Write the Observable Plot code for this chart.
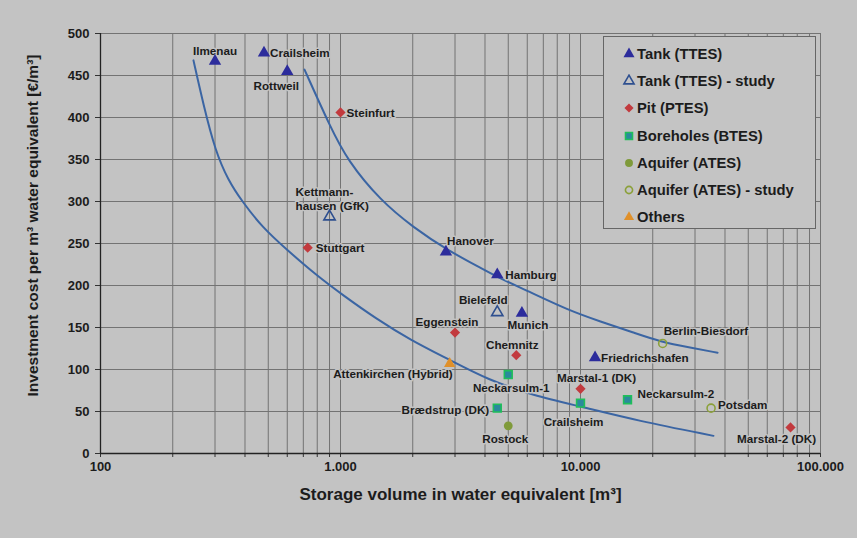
<!DOCTYPE html>
<html>
<head>
<meta charset="utf-8">
<script src="https://cdn.jsdelivr.net/npm/d3@7"></script>
<script src="https://cdn.jsdelivr.net/npm/@observablehq/plot@0.6"></script>
<style>
  html, body { margin: 0; padding: 0; background: #c3c3c3; }
  #wrap { position: relative; width: 857px; height: 538px; }
  #legend {
    position: absolute; left: 603px; top: 36px; width: 213px; height: 193px;
    border: 1px solid #666; background: #c4c4c4; box-sizing: border-box;
    font-family: "Liberation Sans", Arial, sans-serif; font-weight: bold; font-size: 14.8px; color: #1c1c1c;
  }
  .item { position: absolute; left: 18px; height: 18px; display: flex; align-items: center; white-space: nowrap; }
  .item svg { width: 14px; height: 14px; margin-right: 1px; }
</style>
</head>
<body>
<div id="wrap"><div id="legend"></div></div>
<script>
// ---- Data ----
const categories = ["Tank (TTES)", "Tank (TTES) - study", "Pit (PTES)", "Boreholes (BTES)", "Aquifer (ATES)", "Aquifer (ATES) - study", "Others"];

const names = ["Ilmenau", "Crailsheim", "Rottweil", "Steinfurt", "Kettmann-\nhausen (GfK)", "Stuttgart", "Hanover", "Hamburg", "Bielefeld", "Munich", "Eggenstein", "Chemnitz", "Attenkirchen (Hybrid)", "Neckarsulm-1", "Brædstrup (DK)", "Rostock", "Marstal-1 (DK)", "Crailsheim", "Neckarsulm-2", "Potsdam", "Friedrichshafen", "Berlin-Biesdorf", "Marstal-2 (DK)"];
const volumes = [300, 480, 600, 1000, 900, 730, 2750, 4500, 4500, 5700, 3000, 5400, 2850, 5000, 4500, 5000, 10000, 10000, 15700, 35000, 11500, 22000, 75000];
const costs = [467, 477, 455, 406, 282, 245, 240, 213, 168, 167, 144, 117, 107, 94, 54, 33, 77, 60, 64, 54, 114, 131, 31];
const types = [0, 0, 0, 2, 1, 2, 0, 0, 1, 0, 2, 2, 6, 3, 3, 4, 2, 3, 3, 5, 0, 5, 2];

// fitted trend curves
const upperCurveX = [708, 909, 1069, 1468, 2014, 2792, 3831, 4642, 6190, 8830, 12115, 16630, 21540, 28730, 37240];
const upperCurveY = [457, 388, 349, 301, 269, 242, 221, 208, 192, 171, 157, 144, 133, 126, 120];
const lowerCurveX = [244, 269, 301, 341, 387, 473, 601, 787, 1029, 1399, 1958, 2873, 4098, 6368, 10000, 17280, 35810];
const lowerCurveY = [468, 414, 360, 325, 301, 269, 242, 213, 188, 161, 135, 111, 88, 69, 56, 39, 21];

const xMajorTicks = [100, 1000, 10000, 100000];
const xTickLabels = ["100", "1.000", "10.000", "100.000"];
const yTicks = [0, 50, 100, 150, 200, 250, 300, 350, 400, 450, 500];

// ---- Layout / style config ----
const styles = [
  {symbol: "triangle", fill: "#2c2c9c", stroke: "none", sw: 0, r: 4.6},
  {symbol: "triangle", fill: "none", stroke: "#2e4f8f", sw: 1.6, r: 4.2},
  {symbol: "diamond2", fill: "#c23a3e", stroke: "none", sw: 0, r: 4.6},
  {symbol: "square", fill: "#2a8a9c", stroke: "#1fbf5a", sw: 1.6, r: 4.4},
  {symbol: "circle", fill: "#7f9a3a", stroke: "none", sw: 0, r: 4.4},
  {symbol: "circle", fill: "none", stroke: "#8ba03a", sw: 1.6, r: 4},
  {symbol: "triangle", fill: "#e0902a", stroke: "none", sw: 0, r: 4.2}
];
// label placement relative to each point: [dx, dy, anchor, lineAnchor]
const placement = [
  [0, -11, "middle"], [6, 0, "start"], [-11, 14, "middle"], [6, 0, "start"],
  [-34, -7, "start", "bottom"], [8, 0, "start"], [1, -11, "start"], [8, 0, "start"],
  [-14, -13, "middle"], [6, 11, "middle"], [-8, -11, "middle"], [-4, -11, "middle"],
  [3, 10, "end"], [3, 13, "middle"], [-8, 2, "end"], [-3, 13, "middle"],
  [16, -11, "middle"], [-7, 19, "middle"], [10, -6, "start"], [7, -3, "start"],
  [6, 0, "start"], [1, -13, "start"], [-14, 11, "middle"]
];

const rows = names.map((n, i) => ({name: n, v: volumes[i], c: costs[i], t: types[i]}));
const upper = upperCurveX.map((x, i) => ({x, y: upperCurveY[i]}));
const lower = lowerCurveX.map((x, i) => ({x, y: lowerCurveY[i]}));

const xMinor = [];
for (let d = 100; d < 100000; d *= 10) for (let k = 1; k <= 10; k++) xMinor.push(d * k);

const BG = "#c3c3c3";
const FONT = "'Liberation Sans', Arial, sans-serif";
const INK = "#1c1c1c";

const marks = [
  Plot.gridX(xMinor, {stroke: "#737373", strokeOpacity: 1, strokeWidth: 1}),
  Plot.gridY(yTicks, {stroke: "#737373", strokeOpacity: 1, strokeWidth: 1}),
  Plot.axisX(xMinor, {tickSize: 4, text: null, label: null, stroke: "#333"}),
  Plot.axisX(xMajorTicks, {tickSize: 0, tickPadding: 8, label: null, fontSize: 13, fontWeight: "bold", fill: INK,
    tickFormat: d => xTickLabels[xMajorTicks.indexOf(d)]}),
  Plot.axisY(yTicks, {tickSize: 5, tickPadding: 6, label: null, fontSize: 13, fontWeight: "bold", fill: INK, stroke: "#333"}),
  Plot.ruleY([0], {stroke: "#222", strokeWidth: 1.3}),
  Plot.ruleX([100], {stroke: "#222", strokeWidth: 1.3}),
  Plot.line(upper, {x: "x", y: "y", stroke: "#3b65a3", strokeWidth: 2, curve: "basis"}),
  Plot.line(lower, {x: "x", y: "y", stroke: "#3b65a3", strokeWidth: 2, curve: "basis"}),
  Plot.text(["Storage volume in water equivalent [m³]"], {frameAnchor: "bottom", dy: 46, fontSize: 17, fontWeight: "bold", fill: INK}),
  Plot.text(["Investment cost per m³ water equivalent [€/m³]"], {frameAnchor: "left", textAnchor: "middle", dy: -18, dx: -67, rotate: -90, fontSize: 15.5, fontWeight: "bold", fill: INK})
];

rows.forEach((r, i) => {
  const p = placement[i];
  marks.push(Plot.text([r], {x: "v", y: "c", text: "name", dx: p[0], dy: p[1], textAnchor: p[2],
    lineAnchor: p[3] || "middle", lineHeight: 1.15, fontSize: 11.7, fontWeight: "bold", fill: INK,
    stroke: BG, strokeWidth: 3, paintOrder: "stroke"}));
});

styles.forEach((s, k) => {
  marks.push(Plot.dot(rows.filter(r => r.t === k), {x: "v", y: "c", symbol: () => s.symbol, r: s.r,
    fill: s.fill, stroke: s.stroke, strokeWidth: s.sw}));
});

const chart = Plot.plot({
  width: 857, height: 538,
  marginLeft: 100, marginRight: 37, marginTop: 33, marginBottom: 85,
  style: {background: BG, fontFamily: FONT, color: INK},
  x: {type: "log", domain: [100, 100000]},
  y: {domain: [0, 500]},
  symbol: {type: "identity"},
  marks
});
document.getElementById("wrap").prepend(chart);

// legend
const legend = document.getElementById("legend");
categories.forEach((c, k) => {
  const s = styles[k];
  const div = document.createElement("div");
  div.className = "item";
  div.style.top = (8 + k * 27.2) + "px";
  const sym = {triangle: d3.symbolTriangle, diamond2: d3.symbolDiamond2, square: d3.symbolSquare, circle: d3.symbolCircle}[s.symbol];
  const path = d3.symbol(sym, Math.PI * s.r * s.r * 0.8)();
  div.innerHTML = `<svg viewBox="-7 -7 14 14"><path d="${path}" fill="${s.fill}" stroke="${s.stroke}" stroke-width="${s.sw}"/></svg><span>${c}</span>`;
  legend.appendChild(div);
});
</script>
</body>
</html>
